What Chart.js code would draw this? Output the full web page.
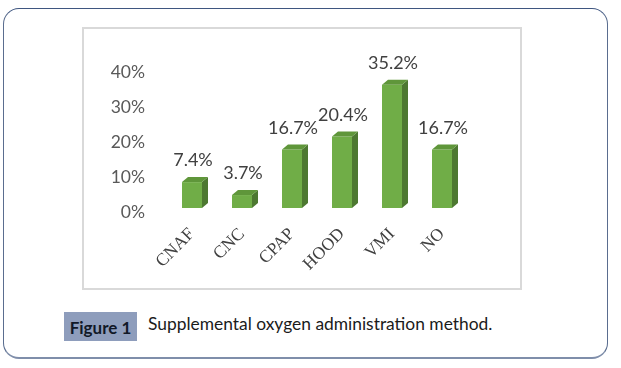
<!DOCTYPE html>
<html>
<head>
<meta charset="utf-8">
<script src="https://cdn.jsdelivr.net/npm/chart.js@4/dist/chart.umd.min.js"></script>
<style>
  html, body { margin: 0; padding: 0; background: #fff; }
  body { width: 621px; height: 368px; position: relative; overflow: hidden; }
  #rahmen {
    position: absolute; left: 3px; top: 8px; width: 605px; height: 351px;
    box-sizing: border-box; border: 1.5px solid #5a6d8f;
    border-top-color: #3f5680; border-bottom-color: #7f8eaa; border-bottom-width: 2px;
    border-radius: 16px;
  }
  #diagrammBox {
    position: absolute; left: 82px; top: 27px; width: 440px; height: 263px;
    box-sizing: border-box; border: 2px solid #d9d9d9;
  }
  #chart { position: absolute; left: 84px; top: 29px; }
  #figLabel {
    position: absolute; left: 64px; top: 312px; width: 73px; height: 29px;
    background: #8e9dbc; color: #111827; font: bold 17px Lato, sans-serif;
    line-height: 31px; text-align: center;
  }
  #figText {
    position: absolute; left: 148px; top: 313px; height: 29px; line-height: 31px;
    color: #1b1b1b; font: 17.4px Lato, sans-serif; white-space: nowrap;
  }
</style>
</head>
<body>
<div id="rahmen"></div>
<div id="diagrammBox"></div>
<canvas id="chart" width="436" height="259"></canvas>
<div id="figLabel">Figure 1</div>
<div id="figText">Supplemental oxygen administration method.</div>
<script>
// Daten
const kategorien = ['CNAF', 'CNC', 'CPAP', 'HOOD', 'VMI', 'NO'];
const anteile = [7.4, 3.7, 16.7, 20.4, 35.2, 16.7];
const wertLabels = ['7.4%', '3.7%', '16.7%', '20.4%', '35.2%', '16.7%'];
const yTicks = [0, 10, 20, 30, 40];

// 3D-Effekt: Seite und Deckel an jeden Balken
const tiefe = { dx: 6, dy: 5 };
const balken3d = {
  id: 'balken3d',
  afterDatasetsDraw(chart) {
    const ctx = chart.ctx;
    const meta = chart.getDatasetMeta(0);
    ctx.save();
    meta.data.forEach((bar, i) => {
      const { x, y, base, width } = bar.getProps(['x', 'y', 'base', 'width'], true);
      const l = x - width / 2, r = x + width / 2;
      // Seite
      ctx.fillStyle = '#4d7831';
      ctx.beginPath();
      ctx.moveTo(r, y); ctx.lineTo(r + tiefe.dx, y - tiefe.dy);
      ctx.lineTo(r + tiefe.dx, base - tiefe.dy); ctx.lineTo(r, base);
      ctx.closePath(); ctx.fill();
      // Deckel
      ctx.fillStyle = '#5f963a';
      ctx.beginPath();
      ctx.moveTo(l, y); ctx.lineTo(l + tiefe.dx, y - tiefe.dy);
      ctx.lineTo(r + tiefe.dx, y - tiefe.dy); ctx.lineTo(r, y);
      ctx.closePath(); ctx.fill();
      // Wertbeschriftung
      ctx.fillStyle = '#404040';
      ctx.font = '18px Lato, sans-serif';
      ctx.textAlign = 'center';
      ctx.textBaseline = 'alphabetic';
      ctx.fillText(wertLabels[i], x + 1, y - 16);
    });
    ctx.restore();
  }
};

new Chart(document.getElementById('chart'), {
  type: 'bar',
  data: {
    labels: kategorien,
    datasets: [{ data: anteile, backgroundColor: '#70ad47', borderWidth: 0,
      categoryPercentage: 0.8, barPercentage: 0.5 }]
  },
  options: {
    responsive: false,
    animation: false,
    devicePixelRatio: 1,
    layout: { padding: { top: 39, right: 53, bottom: 0, left: 0 } },
    plugins: { legend: { display: false }, tooltip: { enabled: false } },
    scales: {
      x: {
        grid: { display: false, drawTicks: false },
        border: { display: false },
        ticks: {
          color: '#404040', font: { family: 'Liberation Serif', size: 17.5 },
          minRotation: 45, maxRotation: 45, autoSkip: false, padding: 16
        },
        afterFit: (s) => { s.height = 80; }
      },
      y: {
        min: 0, max: 40,
        afterBuildTicks: (s) => { s.ticks = yTicks.map((v) => ({ value: v })); },
        grid: { display: false, drawTicks: false },
        border: { display: false },
        ticks: {
          color: '#595959', font: { family: 'Lato', size: 17.5 }, padding: 22, labelOffset: 4,
          callback: (v) => v + '%'
        },
        afterFit: (s) => { s.width = 83; }
      }
    }
  },
  plugins: [balken3d]
});
</script>
</body>
</html>
